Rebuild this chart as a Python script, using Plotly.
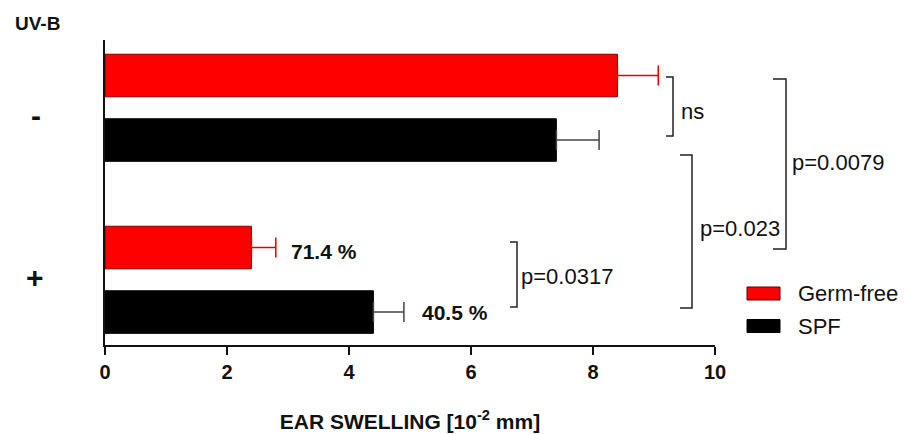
import plotly.graph_objects as go

# ---- data ----
categories = ["-", "+"]
germ_free = [8.4, 2.4]
germ_free_err = [0.67, 0.4]
spf = [7.4, 4.4]
spf_err = [0.7, 0.5]
x_ticks = [0, 2, 4, 6, 8, 10]
pct_labels = ["71.4 %", "40.5 %"]

FONT = "Liberation Sans, Arial, sans-serif"
W, H = 904, 434
L, R, T, B = 105, 189, 40, 89
PW, PH = W - L - R, H - T - B


def px(xp):
    return (xp - L) / PW


def py(yp):
    return (H - B - yp) / PH


fig = go.Figure()
fig.add_trace(go.Bar(
    y=categories, x=germ_free, orientation="h", name="Germ-free",
    marker=dict(color="#ff0000", line=dict(color="#7a0000", width=1)),
    error_x=dict(type="data", array=germ_free_err, arrayminus=[0, 0], symmetric=False,
                 color="#e00000", thickness=1.5, width=10),
    showlegend=False,
))
fig.add_trace(go.Bar(
    y=categories, x=spf, orientation="h", name="SPF",
    marker=dict(color="#000000", line=dict(color="#000000", width=1)),
    error_x=dict(type="data", array=spf_err, arrayminus=[0, 0], symmetric=False,
                 color="#444444", thickness=1.5, width=10),
    showlegend=False,
))

shapes = []
annotations = []


def bracket(x0, x1, y0, y1):
    shapes.append(dict(type="path", xref="paper", yref="paper",
                       path=f"M {px(x0)},{py(y0)} L {px(x1)},{py(y0)} L {px(x1)},{py(y1)} L {px(x0)},{py(y1)}",
                       line=dict(color="#222222", width=1.5)))


def text(t, xp, yp, size, bold=False, anchor="left"):
    annotations.append(dict(text=f"<b>{t}</b>" if bold else t, xref="paper", yref="paper",
                            x=px(xp), y=py(yp), xanchor=anchor, yanchor="middle",
                            showarrow=False, font=dict(family=FONT, size=size, color="#111111")))


# significance brackets
bracket(666, 673, 77, 136)
text("ns", 679, 112, 22)
bracket(510, 517, 242, 307)
text("p=0.0317", 519, 276, 22)
bracket(680, 692, 155, 308)
text("p=0.023", 698, 228, 22)
bracket(773, 786, 79, 249)
text("p=0.0079", 790, 162, 22)

# percentage labels next to UV-B + bars
for i, (val, err, shift) in enumerate([(germ_free[1], germ_free_err[1], 28), (spf[1], spf_err[1], -33)]):
    annotations.append(dict(text=f"<b>{pct_labels[i]}</b>", x=val + err, y=1, xref="x", yref="y",
                            xanchor="left", yanchor="middle", xshift=13 if i == 0 else 16, yshift=shift,
                            showarrow=False, font=dict(family=FONT, size=21, color="#111111")))

# category labels and header
text("UV-B", 13, 24, 19, bold=True)
text("-", 36, 115, 30, bold=True, anchor="center")
text("+", 35, 277, 30, bold=True, anchor="center")

# legend
for (c, yc, name) in [("#ff0000", 293.5, "Germ-free"), ("#000000", 326, "SPF")]:
    shapes.append(dict(type="rect", xref="paper", yref="paper", x0=px(747), x1=px(780),
                       y0=py(yc + 6.5), y1=py(yc - 6.5), fillcolor=c,
                       line=dict(color="#600000" if c != "#000000" else "#000000", width=1)))
    text(name, 796, yc, 22)

fig.update_layout(
    width=W, height=H,
    margin=dict(l=L, r=R, t=T, b=B, autoexpand=False),
    paper_bgcolor="white", plot_bgcolor="white",
    barmode="group", bargap=0.25, bargroupgap=0.34,
    shapes=shapes, annotations=annotations,
    font=dict(family=FONT, color="#111111"),
)
fig.update_xaxes(
    range=[0, 10], tickvals=x_ticks, ticks="outside", ticklen=8, tickwidth=2, tickcolor="#111111",
    showline=True, linewidth=2, linecolor="#111111", showgrid=False, zeroline=False,
    tickfont=dict(family=FONT, size=20, color="#111111", weight="bold"),
    title=dict(text="<b>EAR SWELLING [10<sup>-2</sup> mm]</b>", standoff=32,
               font=dict(family=FONT, size=21, color="#111111")),
    automargin=False,
)
fig.update_yaxes(
    type="category", range=[1.379, -0.394], showline=True, linewidth=2, linecolor="#111111",
    showticklabels=False, ticks="", showgrid=False, zeroline=False, automargin=False,
)

fig.write_html("out.html", config={"displayModeBar": False},
               post_script="document.body.style.margin='0';")
